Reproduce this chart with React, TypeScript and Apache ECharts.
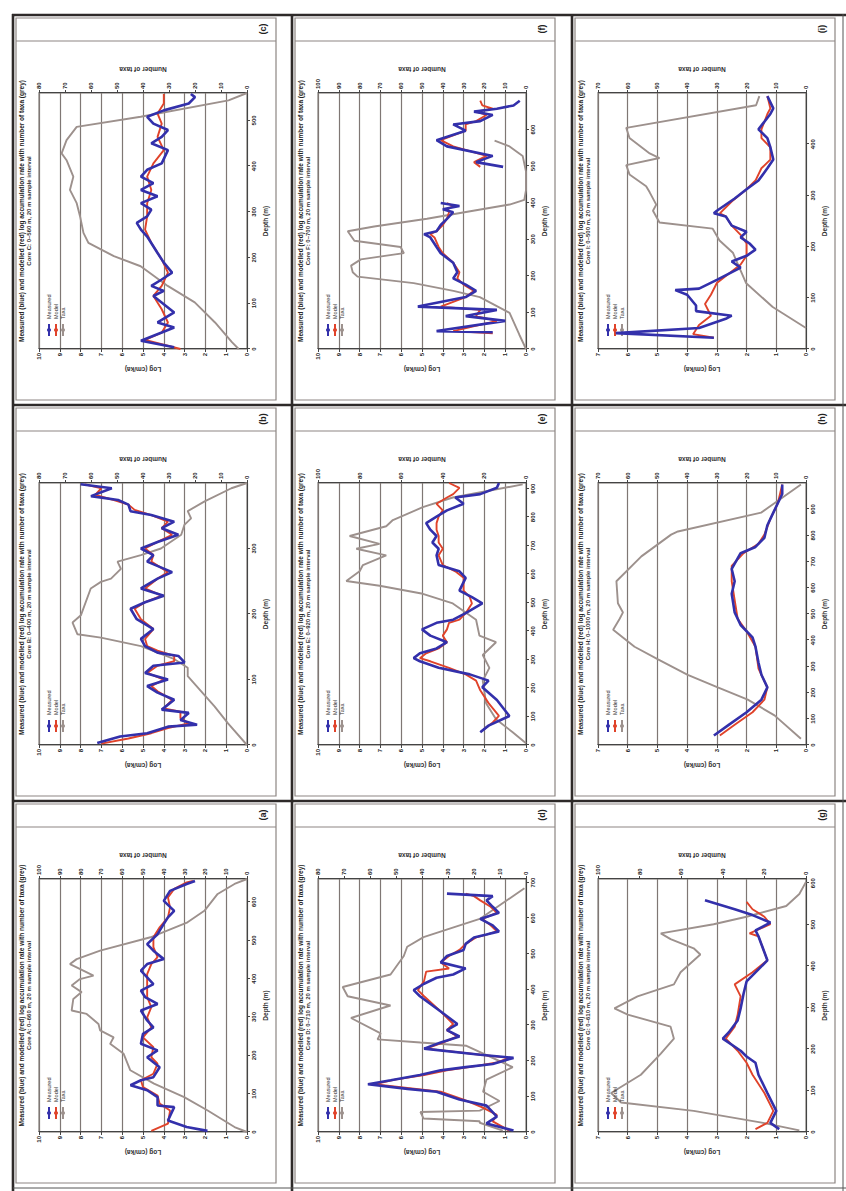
import { useEffect, useRef } from "react";
import * as echarts from "echarts";

// ---- Data: [depth (m), value] pairs per panel ----
// Panel (a)
const A_BLUE = [[3,1.9],[13,2.9],[30,3.8],[65,3.5],[69,4.3],[91,4.3],[109,4.8],[122,5.6],[135,5.1],[143,4.5],[169,4.2],[195,4.8],[213,4.3],[230,5.1],[256,5.0],[273,4.5],[291,4.8],[317,5.1],[334,4.3],[352,4.9],[369,5.1],[386,4.5],[421,5.1],[438,4.8],[451,4.0],[473,4.5],[490,4.8],[516,4.3],[543,4.0],[560,3.8],[577,3.5],[603,4.0],[629,3.7],[647,2.9],[655,2.5]];
const A_RED = [[3,4.6],[22,3.8],[56,3.7],[74,4.2],[95,4.3],[117,5.0],[135,5.1],[152,4.5],[178,4.3],[195,4.6],[221,4.5],[247,5.0],[273,4.6],[299,4.8],[326,4.6],[352,4.8],[378,4.8],[412,4.8],[438,4.6],[456,4.3],[482,4.5],[508,4.5],[534,4.2],[560,3.8],[586,3.7],[612,3.8],[634,3.5],[651,2.9],[655,2.6]];
const A_GRAY = [[0,0],[13,6.0],[56,18.9],[91,30.2],[126,44.7],[161,56.1],[204,59.3],[230,65.8],[247,64.1],[265,70.6],[282,71.4],[308,77.1],[317,84.3],[347,83.5],[365,79.5],[382,84.3],[399,80.3],[408,73.8],[421,78.7],[438,85.1],[451,81.9],[473,70.6],[508,46.4],[547,28.6],[577,20.5],[621,14.1],[647,6.0],[660,0]];

// Panel (b)
const B_BLUE = [[3,7.2],[13,6.1],[18,4.8],[28,3.8],[31,2.4],[38,3.2],[49,2.8],[54,4.1],[69,3.5],[80,4.3],[90,4.8],[100,3.8],[110,4.9],[121,4.5],[126,3.0],[136,3.3],[141,4.3],[151,4.9],[162,5.1],[177,4.5],[192,5.3],[208,5.6],[218,4.9],[228,4.0],[239,5.1],[254,4.3],[264,3.6],[280,4.8],[290,4.5],[300,5.1],[310,4.3],[321,3.3],[331,4.1],[341,3.5],[351,4.6],[357,5.6],[367,5.7],[374,6.2],[380,7.5],[392,6.5],[398,8.0]];
const B_RED = [[2,7.0],[10,5.7],[18,4.6],[26,3.8],[33,2.8],[41,3.2],[51,3.2],[56,4.0],[69,3.6],[82,4.3],[90,4.6],[100,4.0],[110,4.8],[121,4.3],[128,3.5],[136,3.5],[144,4.3],[151,4.8],[162,4.9],[177,4.5],[192,5.1],[208,5.4],[218,4.9],[228,4.1],[239,4.9],[254,4.3],[264,3.8],[280,4.6],[290,4.5],[300,4.9],[310,4.3],[321,3.6],[331,4.1],[341,3.8],[351,4.6],[359,5.4],[367,5.7],[374,6.4],[382,7.3],[392,7.0],[398,7.8]];
const B_GRAY = [[0,0],[33,7.3],[59,12.5],[105,22.8],[118,22.8],[131,27.9],[151,40.8],[164,56.2],[169,65.2],[187,67.1],[198,63.9],[239,60.1],[249,56.2],[254,52.3],[269,48.5],[280,49.8],[290,40.8],[300,33.1],[321,25.3],[336,24.1],[346,21.5],[357,22.8],[372,16.3],[392,6.0],[400,0]];

// Panel (c)
const C_BLUE = [[4,3.5],[18,5.1],[36,4.1],[47,3.5],[58,4.3],[80,3.5],[116,4.5],[127,4.0],[138,4.6],[152,4.1],[167,3.6],[189,4.0],[210,4.3],[246,4.8],[261,5.1],[276,5.3],[290,4.8],[305,4.6],[319,5.1],[334,4.3],[348,5.1],[363,4.5],[377,5.1],[392,4.8],[406,4.1],[435,3.8],[450,4.6],[464,4.1],[479,3.8],[493,4.5],[508,4.8],[522,4.0],[537,2.8],[551,2.5],[558,2.7]];
const C_RED = [[0,3.2],[20,4.9],[36,4.1],[58,3.8],[87,4.1],[116,4.5],[138,4.1],[167,3.8],[196,4.1],[232,4.6],[261,4.9],[290,4.8],[319,4.8],[348,4.6],[377,4.8],[406,4.5],[435,4.0],[464,4.3],[493,4.1],[515,4.3],[537,4.0],[558,4.0]];
const C_GRAY = [[0,3.2],[15,5.8],[58,12.3],[102,20.1],[138,30.5],[181,40.9],[203,51.2],[232,61.0],[254,62.9],[290,64.2],[319,65.5],[348,68.1],[377,66.8],[413,69.4],[428,71.3],[457,69.4],[486,65.5],[508,40.9],[544,7.1],[560,0]];

// Panel (d)
const D_BLUE = [[4,0.6],[24,1.9],[43,1.4],[74,1.9],[91,3.2],[113,4.3],[121,5.7],[134,7.6],[145,6.5],[160,5.1],[173,4.1],[182,2.9],[191,1.6],[208,0.6],[217,2.2],[234,4.9],[251,4.1],[268,3.2],[286,3.8],[303,3.3],[338,4.1],[381,5.1],[398,5.4],[416,4.9],[433,4.3],[442,3.5],[459,2.9],[476,4.1],[494,3.8],[511,3.0],[528,2.9],[546,2.5],[554,1.9],[563,1.3],[580,1.6],[598,2.2],[615,1.3],[632,1.6],[650,1.9],[662,1.6],[669,3.8]];
const D_RED = [[4,0.8],[30,1.6],[48,1.4],[69,2.1],[91,3.0],[113,4.1],[123,5.6],[134,7.3],[147,6.3],[160,4.9],[173,3.8],[184,2.5],[195,1.4],[208,0.8],[218,2.4],[234,4.8],[251,4.0],[268,3.3],[286,3.8],[303,3.5],[338,4.1],[381,4.9],[398,5.2],[424,4.9],[450,4.8],[459,3.7],[476,4.1],[494,3.7],[511,3.2],[528,2.9],[546,2.4],[554,1.9],[563,1.4],[580,1.7],[598,2.1],[615,1.4],[632,1.7],[650,2.2],[662,2.5],[669,2.9]];
const D_GRAY = [[4,8.9],[26,17.8],[30,17.8],[38,39.4],[56,40.6],[60,17.8],[87,10.2],[113,16.5],[147,15.2],[182,5.1],[242,22.9],[251,40.6],[260,57.1],[277,55.9],[320,67.3],[355,52.1],[381,68.6],[407,70.5],[442,52.1],[494,47.0],[520,45.7],[547,39.4],[598,17.8],[684,0.6]];

// Panel (e)
const E_BLUE = [[45,2.2],[68,1.8],[102,0.8],[158,1.4],[203,2.1],[226,1.8],[248,2.7],[271,4.2],[294,5.1],[305,5.4],[322,5.1],[339,4.3],[361,3.8],[384,4.6],[406,5.0],[429,4.3],[440,3.5],[463,2.9],[497,2.1],[519,2.6],[542,3.2],[587,2.9],[610,3.2],[632,4.2],[666,4.3],[689,4.2],[711,4.5],[734,4.3],[756,4.6],[779,4.8],[802,4.3],[824,3.8],[847,3.0],[869,3.4],[881,2.2],[903,1.4],[920,1.3]];
const E_RED = [[51,2.1],[79,1.6],[102,1.3],[147,1.8],[192,2.2],[226,2.4],[248,2.9],[271,3.7],[294,4.6],[305,5.1],[322,4.8],[339,4.2],[361,3.8],[384,4.0],[406,3.8],[429,3.7],[440,3.2],[463,2.9],[497,2.6],[519,2.7],[542,3.0],[587,3.0],[610,3.4],[632,4.0],[666,4.2],[689,4.0],[711,4.2],[734,4.2],[756,4.3],[779,4.3],[802,4.2],[824,4.0],[847,4.3],[869,3.8],[881,3.5],[903,3.2],[920,3.7]];
const E_GRAY = [[6,0],[45,6.4],[90,14.4],[147,19.2],[226,20.8],[271,17.6],[316,20.8],[361,14.4],[384,22.4],[440,24.0],[497,35.2],[531,49.6],[559,70.4],[576,86.4],[610,80.0],[632,78.4],[666,67.2],[689,81.6],[706,70.4],[734,84.8],[768,67.2],[790,64.0],[835,49.6],[869,35.2],[915,1.6]];

// Panel (f) — no samples between ~400 m and ~500 m
const F_BLUE = [[46,1.6],[49,4.3],[77,1.0],[90,2.9],[107,1.4],[116,5.2],[142,2.9],[159,2.4],[176,2.9],[193,3.5],[210,3.3],[236,3.5],[262,4.1],[279,4.3],[305,4.6],[314,4.9],[322,4.3],[339,4.1],[356,3.8],[374,3.5],[382,4.0],[391,3.2],[399,4.1],[450,null],[498,1.1],[511,2.4],[528,1.6],[554,3.8],[571,4.3],[597,2.9],[614,3.5],[623,2.2],[640,1.6],[649,2.5],[657,1.4],[666,0.6],[679,0.3]];
const F_RED = [[43,1.6],[49,3.5],[77,1.4],[90,2.4],[107,2.2],[116,4.1],[142,2.9],[159,2.5],[176,3.0],[193,3.3],[210,3.2],[236,3.5],[262,4.0],[279,4.2],[305,4.4],[314,4.6],[322,4.3],[339,4.0],[356,3.8],[374,3.7],[382,3.8],[391,3.5],[399,3.8],[450,null],[498,2.2],[511,2.5],[528,1.9],[554,3.5],[571,4.1],[597,2.9],[614,2.9],[623,2.4],[640,1.9],[649,2.4],[657,1.6],[666,2.1],[679,2.2]];
const F_GRAY = [[0,0],[39,3.2],[99,7.9],[142,22.2],[159,34.9],[180,54.0],[198,81.0],[210,83.3],[228,84.1],[245,79.4],[262,58.7],[279,60.3],[296,82.5],[322,85.7],[335,73.0],[356,47.6],[378,25.4],[395,7.9],[408,0.8],[434,0],[485,0],[528,1.6],[554,7.9],[570,15.1]];

// Panel (g)
const G_BLUE = [[7,0.9],[22,1.2],[51,1.0],[94,1.3],[138,1.6],[167,1.7],[182,2.0],[196,2.2],[225,2.8],[240,2.6],[269,2.3],[298,2.2],[334,2.1],[363,2.0],[392,1.6],[414,1.3],[472,1.6],[486,1.7],[505,1.2],[523,1.8],[537,2.4],[559,3.4]];
const G_RED = [[7,1.7],[22,1.3],[51,1.1],[94,1.4],[138,1.8],[167,2.0],[196,2.3],[225,2.7],[254,2.4],[283,2.3],[327,2.2],[356,2.4],[385,1.8],[414,1.3],[472,1.6],[479,1.9],[501,1.2],[519,1.4],[537,1.8],[555,2.0]];
const G_GRAY = [[4,3.2],[22,20.6],[51,54.0],[71,88.9],[94,93.7],[138,79.4],[189,69.8],[225,63.5],[254,65.1],[283,85.7],[298,92.1],[327,81.0],[356,63.5],[385,60.3],[428,50.8],[443,54.0],[465,65.1],[479,69.8],[501,44.4],[519,28.6],[545,9.5],[574,3.2],[603,0]];

// Panel (h)
const H_BLUE = [[36,3.1],[77,2.6],[125,2.0],[173,1.5],[220,1.3],[268,1.5],[315,1.6],[375,1.7],[411,1.8],[458,2.2],[506,2.4],[577,2.5],[625,2.4],[672,2.5],[732,2.2],[756,1.7],[791,1.4],[839,1.3],[887,1.1],[958,0.8],[994,0.8]];
const H_RED = [[36,2.9],[77,2.4],[125,1.8],[173,1.4],[220,1.3],[292,1.6],[375,1.7],[434,2.0],[482,2.3],[553,2.4],[625,2.5],[684,2.5],[732,2.1],[768,1.6],[803,1.4],[863,1.2],[922,0.95],[994,0.8]];
const H_GRAY = [[24,1.7],[113,10.6],[173,19.6],[220,29.7],[268,39.8],[327,49.8],[375,57.7],[440,64.9],[482,62.7],[506,61.6],[541,63.3],[625,63.8],[720,55.4],[803,45.4],[815,43.1],[887,15.1],[994,1.7]];

// Panel (i)
const I_BLUE = [[22,3.1],[31,6.4],[41,3.6],[59,2.7],[65,2.5],[74,3.7],[85,3.7],[106,4.0],[115,4.4],[118,3.6],[135,3.0],[159,2.2],[171,2.5],[182,2.0],[194,1.7],[206,1.9],[218,2.2],[229,2.0],[241,2.5],[259,2.7],[265,3.1],[270,3.0],[294,2.4],[312,2.0],[329,1.6],[353,1.3],[370,1.1],[394,1.2],[412,1.3],[429,1.6],[459,1.2],[470,1.1],[494,1.3]];
const I_RED = [[22,3.1],[29,3.8],[47,3.6],[65,3.2],[88,3.4],[106,3.2],[129,3.0],[147,2.6],[165,2.2],[182,2.0],[206,2.0],[223,2.2],[241,2.5],[259,2.7],[265,2.9],[288,2.5],[312,2.0],[329,1.7],[353,1.5],[370,1.2],[394,1.2],[412,1.5],[429,1.5],[459,1.3],[470,1.2],[494,1.3]];
const I_GRAY = [[41,0],[82,11.2],[129,20.2],[188,24.6],[212,29.1],[235,31.4],[247,49.3],[270,51.5],[282,50.4],[306,52.6],[318,53.8],[341,59.4],[359,60.5],[373,49.3],[382,52.6],[412,59.4],[432,60.5],[476,16.8],[494,15.7]];

// ---- Axis scales per panel ----
const PANEL_LABELS = ["(a)", "(b)", "(c)", "(d)", "(e)", "(f)", "(g)", "(h)", "(i)"];
const PANEL_SITES = ["Core A", "Core B", "Core C", "Core D", "Core E", "Core F", "Core G", "Core H", "Core I"];
const LOG_MAX = [10, 10, 10, 10, 10, 10, 7, 7, 7];
const TAXA_MAX = [100, 80, 80, 80, 100, 100, 100, 70, 70];
const TAXA_STEP = [10, 10, 10, 10, 20, 10, 20, 10, 10];
const DEPTH_MAX = [660, 400, 560, 710, 920, 700, 610, 1000, 500];
const SERIES_BLUE = [A_BLUE, B_BLUE, C_BLUE, D_BLUE, E_BLUE, F_BLUE, G_BLUE, H_BLUE, I_BLUE];
const SERIES_RED = [A_RED, B_RED, C_RED, D_RED, E_RED, F_RED, G_RED, H_RED, I_RED];
const SERIES_GRAY = [A_GRAY, B_GRAY, C_GRAY, D_GRAY, E_GRAY, F_GRAY, G_GRAY, H_GRAY, I_GRAY];

const NAME_MEAS = "Measured";
const NAME_MODEL = "Model";
const NAME_TAXA = "Taxa";

// ---- Layout of the landscape sheet (1191 x 846, shown turned a quarter) ----
const SHEET_W = 1191;
const SHEET_H = 846;
const COL_U = [[3, 390], [390, 786], [786, 1176]];
const ROW_V = [[13, 292], [292, 572], [572, 843]];
const FONT = "Liberation Sans, Arial, sans-serif";

function buildOption() {
  const grids: any[] = [];
  const xAxes: any[] = [];
  const yAxes: any[] = [];
  const legends: any[] = [];
  const series: any[] = [];
  const graphics: any[] = [];

  for (let i = 0; i < 9; i++) {
    const row = Math.floor(i / 3);
    const col = i % 3;
    const [u0, u1] = COL_U[col];
    const [v0] = ROW_V[row];
    const gl = u0 + 56;
    const gw = u1 - u0 - 134;
    const gt = v0 + 26;
    const gh = 208;

    grids.push({
      left: gl, top: gt, width: gw, height: gh,
      show: true, borderColor: "#6f6865", borderWidth: 1, backgroundColor: "#fff",
    });

    xAxes.push({
      gridIndex: i, type: "value", min: 0, max: DEPTH_MAX[i], interval: 100,
      position: "bottom",
      axisLine: { onZero: false, lineStyle: { color: "#444", width: 1 } },
      axisTick: { length: 3, lineStyle: { color: "#444" } },
      axisLabel: { fontSize: 6, color: "#222", fontWeight: "bold", margin: 4, showMaxLabel: false, fontFamily: FONT },
      splitLine: { show: false },
      name: "Depth (m)", nameLocation: "middle", nameGap: 15,
      nameTextStyle: { fontSize: 6.5, fontWeight: "bold", color: "#333", fontFamily: FONT },
    });

    yAxes.push({
      gridIndex: i, type: "value", min: 0, max: LOG_MAX[i], interval: 1, position: "left",
      axisLine: { show: true, lineStyle: { color: "#444" } },
      axisTick: { show: true, length: 3, lineStyle: { color: "#444" } },
      axisLabel: { fontSize: 6, color: "#222", fontWeight: "bold", margin: 4, fontFamily: FONT },
      splitLine: { show: true, lineStyle: { color: "#7f7774", width: 1.2 } },
      name: "Log (cm/ka)", nameLocation: "middle", nameGap: 17,
      nameTextStyle: { fontSize: 6.5, fontWeight: "bold", color: "#333", fontFamily: FONT },
    });
    yAxes.push({
      gridIndex: i, type: "value", min: 0, max: TAXA_MAX[i], interval: TAXA_STEP[i], position: "right",
      axisLine: { show: true, lineStyle: { color: "#444" } },
      axisTick: { show: true, length: 3, lineStyle: { color: "#444" } },
      axisLabel: { fontSize: 6, color: "#222", fontWeight: "bold", margin: 4, fontFamily: FONT },
      splitLine: { show: false },
      name: "Number of taxa", nameLocation: "middle", nameGap: 20,
      nameTextStyle: { fontSize: 6.5, fontWeight: "bold", color: "#333", fontFamily: FONT },
    });

    legends.push({
      left: gl + 12, top: gt + 7, orient: "vertical", padding: 0,
      itemWidth: 12, itemHeight: 5, itemGap: 1, selectedMode: false,
      textStyle: { fontSize: 5.5, color: "#333", fontFamily: FONT },
      data: [NAME_MEAS, NAME_MODEL, NAME_TAXA],
    });

    series.push({
      type: "line", name: NAME_TAXA, xAxisIndex: i, yAxisIndex: 2 * i + 1,
      data: SERIES_GRAY[i], symbol: "none", z: 2,
      lineStyle: { color: "#9d918d", width: 1.9 }, itemStyle: { color: "#9d918d" },
    });
    series.push({
      type: "line", name: NAME_MODEL, xAxisIndex: i, yAxisIndex: 2 * i,
      data: SERIES_RED[i], symbol: "none", z: 3, connectNulls: false,
      lineStyle: { color: "#e0432a", width: 1.9 }, itemStyle: { color: "#e0432a" },
    });
    series.push({
      type: "line", name: NAME_MEAS, xAxisIndex: i, yAxisIndex: 2 * i,
      data: SERIES_BLUE[i], symbol: "none", z: 4, connectNulls: false,
      lineStyle: { color: "#3330ab", width: 2.6 }, itemStyle: { color: "#3330ab" },
    });

    // panel frame, heading rule and panel letter
    graphics.push({
      type: "rect", silent: true,
      shape: { x: u0 + 5, y: v0 + 3, width: u1 - u0 - 8, height: 260 },
      style: { fill: "none", stroke: "#8d8683", lineWidth: 1.2 },
    });
    graphics.push({
      type: "line", silent: true,
      shape: { x1: u1 - 26, y1: v0 + 3, x2: u1 - 26, y2: v0 + 263 },
      style: { stroke: "#8d8683", lineWidth: 1.2 },
    });
    graphics.push({
      type: "text", silent: true, x: u1 - 14, y: v0 + 250,
      style: {
        text: PANEL_LABELS[i], fill: "#222", font: `bold 9px ${FONT}`,
        align: "center", textAlign: "center", verticalAlign: "middle", textVerticalAlign: "middle",
      },
    });
    // two-line heading above the plot
    const cx = gl + gw / 2 + 10;
    graphics.push({
      type: "text", silent: true, x: cx, y: v0 + 5,
      style: {
        text: "Measured (blue) and modelled (red) log accumulation rate with number of taxa (grey)",
        fill: "#222", font: `bold 6.5px ${FONT}`,
        align: "center", textAlign: "center", verticalAlign: "top", textVerticalAlign: "top",
      },
    });
    graphics.push({
      type: "text", silent: true, x: cx, y: v0 + 13,
      style: {
        text: `${PANEL_SITES[i]}: 0–${DEPTH_MAX[i]} m, 20 m sample interval`,
        fill: "#333", font: `bold 6px ${FONT}`,
        align: "center", textAlign: "center", verticalAlign: "top", textVerticalAlign: "top",
      },
    });
  }

  // sheet rules: heavy cell dividers, light outer edges
  const heavy = { stroke: "#2e2a29", lineWidth: 2.6 };
  const light = { stroke: "#555", lineWidth: 1 };
  [1176, 786, 390].forEach((u) =>
    graphics.push({ type: "line", silent: true, shape: { x1: u, y1: 12, x2: u, y2: SHEET_H }, style: heavy })
  );
  [13, 292, 572].forEach((v) =>
    graphics.push({ type: "line", silent: true, shape: { x1: 0, y1: v, x2: 1177, y2: v }, style: heavy })
  );
  graphics.push({ type: "line", silent: true, shape: { x1: 3, y1: 13, x2: 3, y2: SHEET_H }, style: light });
  graphics.push({ type: "line", silent: true, shape: { x1: 0, y1: 843, x2: 1177, y2: 843 }, style: light });

  return {
    animation: false,
    backgroundColor: "#fff",
    textStyle: { fontFamily: FONT },
    grid: grids,
    xAxis: xAxes,
    yAxis: yAxes,
    legend: legends,
    series,
    graphic: { elements: graphics },
  };
}

export default function App() {
  const ref = useRef<HTMLDivElement>(null);
  useEffect(() => {
    if (!ref.current) return;
    const chart = echarts.init(ref.current, null, { renderer: "svg" });
    chart.setOption(buildOption());
    return () => chart.dispose();
  }, []);
  return (
    <div
      style={{
        position: "absolute", left: 0, top: 0, width: 846, height: 1191,
        overflow: "hidden", background: "#fff",
      }}
    >
      <div
        ref={ref}
        style={{
          position: "absolute", left: 0, top: 0, width: SHEET_W, height: SHEET_H,
          transformOrigin: "0 0", transform: `translate(0px, ${SHEET_W}px) rotate(-90deg)`,
        }}
      />
    </div>
  );
}
